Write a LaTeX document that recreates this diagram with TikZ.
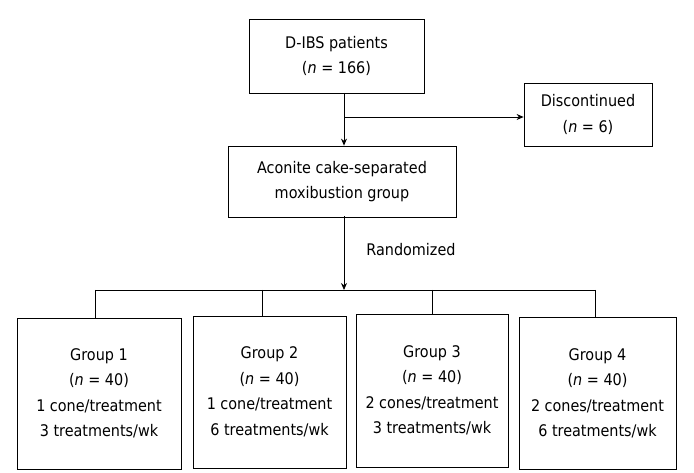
\documentclass[tikz,border=0pt]{standalone}
\usepackage{fontspec}
\setmainfont{DejaVu Sans Condensed}
\usepackage{tikz}
\usetikzlibrary{shapes, arrows.meta, positioning}

\begin{document}
\begin{tikzpicture}[
		x=1pt, y=1pt,
		box/.style={draw, line width=0.8pt, inner sep=0pt, font=\fontsize{16}{25.5}\selectfont},
		every node/.style={align=center},
		arr/.style={line width=0.8pt, -{Stealth[length=7pt, width=6pt]}},
		ln/.style={line width=0.8pt}
		]
		\useasboundingbox (0,0) rectangle (694,472);
		
		% Top of the chart
		\node[box, minimum width=175, minimum height=74] (dibs) at (336.5,416) {D-IBS patients\\ (\textit{n} = 166)};
		\node[box, minimum width=228, minimum height=71] (acm) at (342,290.5) {Aconite cake-separated\\ moxibustion group};
		\node[box, minimum width=128, minimum height=63] (disc) at (588,357.5) {Discontinued\\ (\textit{n} = 6)};
		\node[font=\fontsize{16}{25.5}\selectfont] (rand) at (411,222) {Randomized};
		
		% Groups
		\node[box, minimum width=164, minimum height=151] (g1) at (99,78.5) {Group 1\\ (\textit{n} = 40)\\ 1 cone/treatment\\ 3 treatments/wk};
		\node[box, minimum width=153, minimum height=152] (g2) at (269.5,80) {Group 2\\ (\textit{n} = 40)\\ 1 cone/treatment\\ 6 treatments/wk};
		\node[box, minimum width=152, minimum height=153] (g3) at (432,81.5) {Group 3\\ (\textit{n} = 40)\\ 2 cones/treatment\\ 3 treatments/wk};
		\node[box, minimum width=157, minimum height=152] (g4) at (597.5,78.5) {Group 4\\ (\textit{n} = 40)\\ 2 cones/treatment\\ 6 treatments/wk};
		
		% Arrows
		\coordinate (top) at (344,379);
		\coordinate (split) at (344,355);
		\coordinate (mid) at (344,255.5);
		\coordinate (hub) at (344,182);
		\draw[arr] (top) -- (top |- acm.north);
		\draw[arr] (split) -- (split -| disc.west);
		\draw[arr] (mid) -- (hub);
		
		\coordinate (t1) at (95,182);
		\coordinate (t2) at (262,182);
		\coordinate (t3) at (432,182);
		\coordinate (t4) at (595,182);
		\draw[ln] (t1) -- (t4);
		\foreach \t/\g in {t1/g1, t2/g2, t3/g3, t4/g4}
		\draw[ln] (\t) -- (\t |- \g.north);
		
	\end{tikzpicture}
\end{document}
